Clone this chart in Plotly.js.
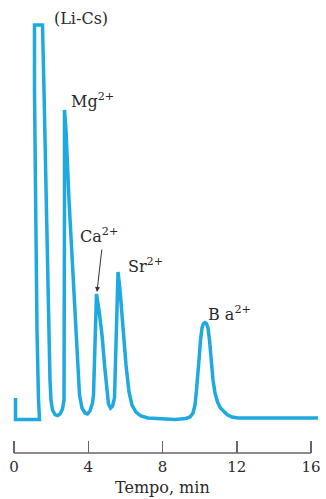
<!DOCTYPE html>
<html>
<head>
<meta charset="utf-8">
<script src="https://cdn.plot.ly/plotly-3.0.1.min.js"></script>
<style>html,body{margin:0;padding:0;background:#fff;}#chart{width:326px;height:499px;}</style>
</head>
<body>
<div id="chart"></div>
<script>
// Chromatogram trace: time (min) and detector signal (arbitrary units)
var timeMin = [0.081, 0.081, 1.374, 1.320, 1.239, 1.158, 1.104, 1.104, 1.535,
  1.616, 1.724, 1.832, 1.939, 1.993, 2.074, 2.209, 2.343, 2.478, 2.613, 2.694,
  2.721, 2.721, 2.721, 2.801, 2.963, 3.152, 3.340, 3.529, 3.663, 3.825, 3.960,
  4.094, 4.229, 4.283, 4.364, 4.444, 4.579, 4.741, 4.902, 5.010, 5.091, 5.199,
  5.306, 5.414, 5.495, 5.603, 5.710, 5.872, 6.034, 6.195, 6.357, 6.572, 6.842,
  7.219, 7.865, 8.673, 9.266, 9.481, 9.643, 9.751, 9.832, 9.886, 9.966, 10.047,
  10.128, 10.209, 10.290, 10.370, 10.451, 10.532, 10.613, 10.721, 10.828,
  10.963, 11.125, 11.259, 11.475, 11.744, 12.067, 16.377];
var signal = [22, 0.5, 0.5, 20, 90, 220, 330, 395, 395,
  330, 220, 120, 40, 20, 10, 5.5, 4.5, 6, 11, 20,
  120, 220, 310, 290, 220, 160, 90, 25, 12, 7, 6,
  9, 17, 25, 90, 126, 110, 85, 50, 25, 16, 12,
  14, 22, 80, 148, 130, 90, 55, 28, 15, 8, 4,
  2, 1.5, 0.5, 1.5, 3, 7, 15, 30, 40, 60, 80,
  92, 96.5, 97.5, 96.5, 92, 80, 60, 40, 27,
  18, 12, 9, 5.5, 3, 2, 2];
var tickValues = [0, 4, 8, 12, 16];
var tickLabels = ['0', '4', '8', '12', '16'];
var peakNames = ['(Li-Cs)', 'Mg<sup>2+</sup>', 'Ca<sup>2+</sup>', 'Sr<sup>2+</sup>', 'B a<sup>2+</sup>'];
var labelTime = [2.05, 2.96, 3.45, 6.03, 10.34];
var labelSignal = [402, 320, 185, 155, 107];

var serif = 'DejaVu Serif, Liberation Serif, serif';
var textColor = '#2a2a2a';

var annotations = peakNames.map(function (n, i) {
  return {
    text: n, x: labelTime[i], y: labelSignal[i], xref: 'x', yref: 'y',
    xanchor: 'left', yanchor: 'middle', showarrow: false,
    font: {family: serif, size: 16, color: textColor}
  };
});
// arrow pointing to the Ca peak
annotations.push({
  text: '', x: 4.47, y: 128, xref: 'x', yref: 'y',
  ax: 4.74, ay: 172, axref: 'x', ayref: 'y',
  showarrow: true, arrowhead: 2, arrowsize: 1, arrowwidth: 1, arrowcolor: '#333'
});
annotations.push({
  text: 'Tempo, min', x: 8, y: 0, xref: 'x', yref: 'paper',
  xanchor: 'center', yanchor: 'middle', yshift: -34, showarrow: false,
  font: {family: serif, size: 16, color: textColor}
});

var data = [{
  type: 'scatter', mode: 'lines', x: timeMin, y: signal,
  line: {color: '#1fa9e1', width: 3.5, shape: 'linear'},
  hoverinfo: 'skip'
}];

var layout = {
  width: 326, height: 499,
  margin: {l: 5, r: 1, t: 10, b: 46, pad: 0},
  paper_bgcolor: '#ffffff', plot_bgcolor: '#ffffff',
  showlegend: false,
  xaxis: {
    range: [-0.4848, 16.754], showgrid: false, zeroline: false, showline: false,
    tickmode: 'array', tickvals: tickValues, ticktext: tickLabels,
    ticks: 'inside', ticklen: 12, tickwidth: 1.5, tickcolor: '#666',
    ticklabelstandoff: 3,
    tickfont: {family: serif, size: 15, color: textColor}
  },
  yaxis: {range: [-33, 410], visible: false},
  shapes: [{
    type: 'line', xref: 'x', yref: 'paper', x0: 0, x1: 16, y0: 0, y1: 0,
    line: {color: '#666', width: 1.5}
  }],
  annotations: annotations
};

Plotly.newPlot('chart', data, layout, {staticPlot: true, displayModeBar: false});
</script>
</body>
</html>
